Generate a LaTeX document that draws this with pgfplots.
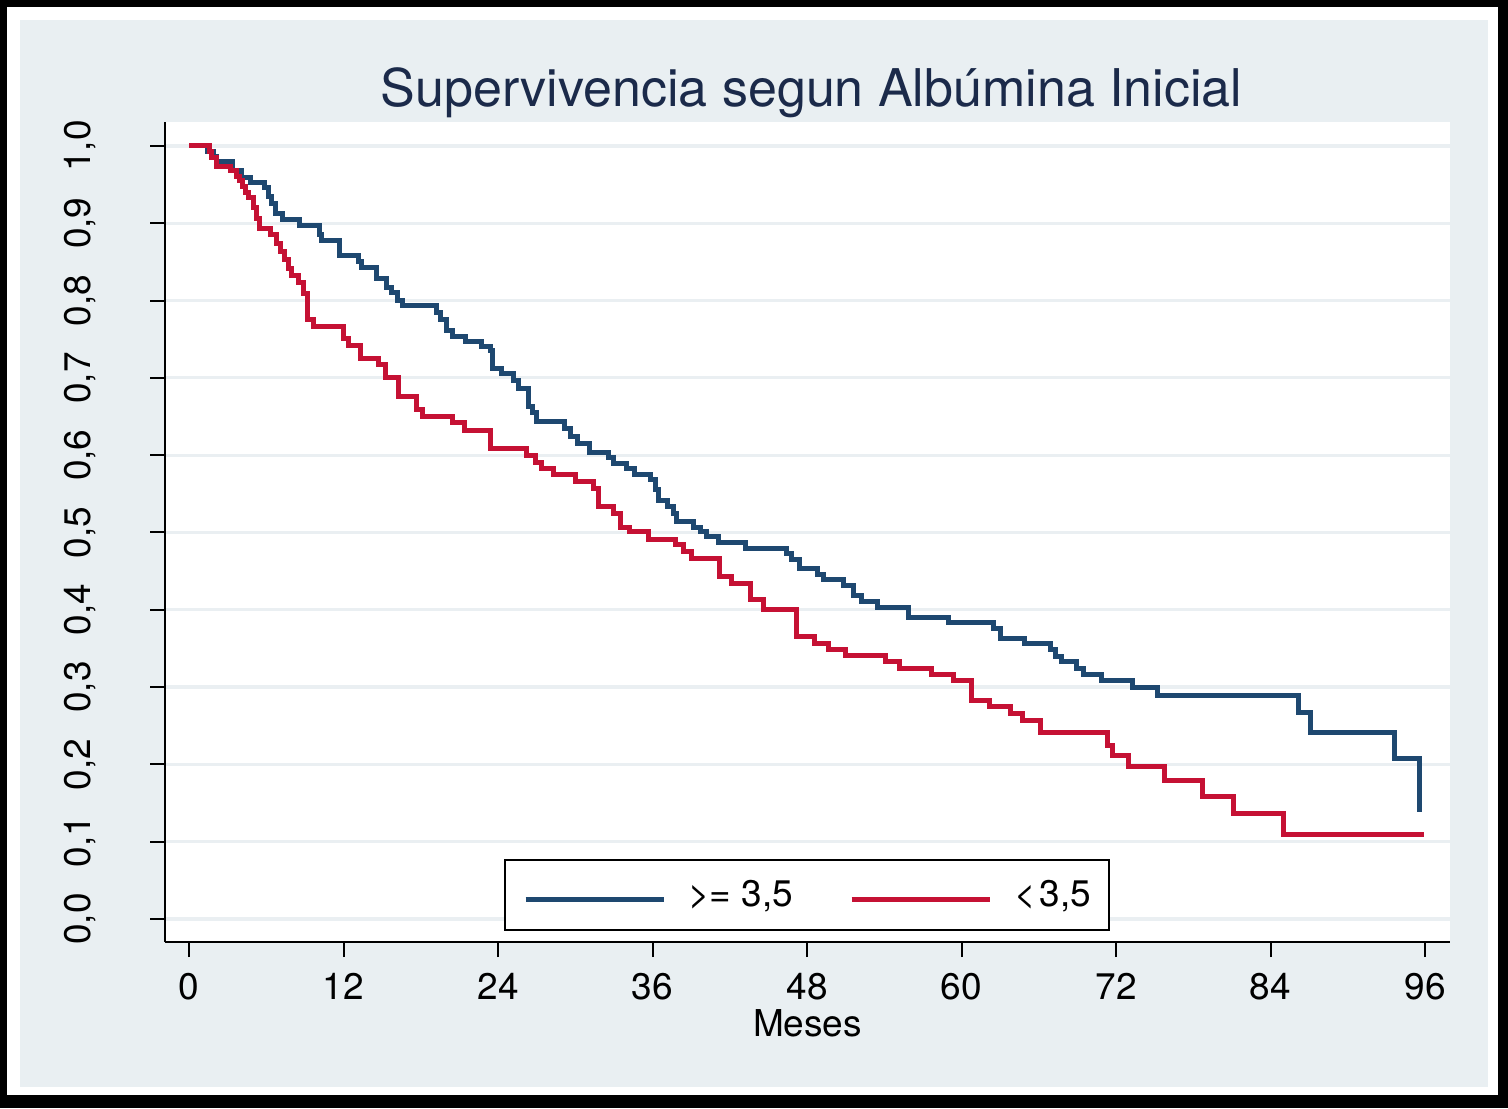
\documentclass[border=0pt]{standalone}
\usepackage{fontspec}
\setmainfont{TeX Gyre Heros}
\usepackage{pgfplots}
\pgfplotsset{compat=1.18}
\definecolor{bgc}{RGB}{233,239,242}
\definecolor{gridc}{RGB}{234,239,242}
\definecolor{navyc}{RGB}{30,72,112}
\definecolor{redc}{RGB}{197,17,52}
\definecolor{titlec}{RGB}{27,42,74}
\newcommand{\tfont}{\fontsize{18.5pt}{22pt}\selectfont}
\begin{document}
\begin{tikzpicture}
\fill[black] (0pt,0pt) rectangle (754pt,554pt);
\fill[white] (3.5pt,6.5pt) rectangle (749pt,550.5pt);
\fill[bgc] (10pt,10.5pt) rectangle (744pt,544pt);
\begin{axis}[
  at={(82.5pt,83pt)}, anchor=south west,
  scale only axis, width=642.5pt, height=410pt,
  xmin=-1.864, xmax=97.94, ymin=-0.02975, ymax=1.031,
  axis background/.style={fill=white},
  axis lines=left, axis line style={-, line width=1pt, black},
  xtick={0,12,...,96}, ytick={0,0.1,...,1.0},
  tick align=outside, major tick length=7.5pt,
  tick style={black, line width=1pt},
  ymajorgrids, major grid style={color=gridc, line width=1.6pt},
  /pgf/number format/assume math mode=true,
  yticklabel style={/pgf/number format/.cd, use comma, fixed, fixed zerofill, precision=1, /tikz/.cd, rotate=90, anchor=south, inner sep=0pt},
  yticklabel shift=27pt,
  xticklabel style={anchor=north, inner sep=0pt},
  xticklabel shift=8pt,
  ticklabel style={font=\tfont},
  xlabel={Meses},
  xlabel style={font=\tfont, at={(axis description cs:0.5,0)}, anchor=base, yshift=-47pt, inner sep=0pt},
  title={Supervivencia segun Albúmina Inicial},
  title style={font=\fontsize{26pt}{30pt}\selectfont, color=titlec, at={(axis description cs:0.5,1)}, anchor=base, yshift=1.5pt, xshift=2pt, inner sep=0pt},
  legend columns=2,
  legend style={at={(axis cs:48,0.031)}, anchor=center, draw=black, line width=1pt, fill=white,
    font=\tfont, inner xsep=9pt, inner ysep=10pt,
    nodes={inner sep=0pt, anchor=base west},
    /tikz/every even column/.append style={column sep=28pt},
    /tikz/every odd column/.append style={column sep=11pt}},
  legend image code/.code={\draw[#1] (0pt,0.35em) -- (69pt,0.35em);},
]
\addplot[const plot, navyc, line width=2.5pt] coordinates {
(0,1) (1.4,0.993) (1.9,0.986) (2.15,0.98) (3.4,0.968) (4.1,0.959) (4.75,0.953)
(5.9,0.946) (6.16,0.935) (6.4,0.925) (6.7,0.913) (7.3,0.905) (8.6,0.897)
(10.1,0.886) (10.3,0.878) (11.65,0.858) (13.2,0.851) (13.4,0.843) (14.6,0.829)
(15.35,0.817) (15.7,0.81) (16.2,0.80) (16.6,0.794) (19.2,0.785) (19.5,0.775)
(20.0,0.761) (20.5,0.753) (21.5,0.747) (22.7,0.741) (23.4,0.735) (23.6,0.712)
(24.3,0.706) (25.2,0.697) (25.6,0.686) (26.4,0.663) (26.7,0.655) (27.0,0.643)
(29.2,0.635) (29.6,0.624) (30.2,0.615) (31.1,0.603) (32.6,0.597) (32.95,0.589)
(34.0,0.583) (34.6,0.575) (35.85,0.568) (36.2,0.555) (36.45,0.542) (37.2,0.533)
(37.6,0.525) (37.9,0.514) (39.2,0.507) (39.7,0.501) (40.2,0.495) (41.1,0.487)
(43.2,0.479) (46.4,0.473) (46.8,0.465) (47.4,0.454) (48.8,0.446) (49.3,0.439)
(50.8,0.432) (51.6,0.419) (52.2,0.411) (53.5,0.403) (55.9,0.390) (59.0,0.383)
(62.5,0.376) (63.0,0.363) (64.9,0.356) (66.9,0.348) (67.3,0.340) (67.8,0.333)
(68.9,0.324) (69.5,0.316) (70.9,0.308) (73.3,0.299) (75.2,0.289) (86.2,0.267)
(87.1,0.241) (93.6,0.207) (95.6,0.138)
};
\addlegendentry{>= 3,5}
\addplot[const plot, redc, line width=2.5pt] coordinates {
(0,1) (1.6,0.993) (1.75,0.985) (2.15,0.974) (3.2,0.968) (3.7,0.961) (3.96,0.955)
(4.16,0.948) (4.35,0.94) (4.6,0.933) (5.0,0.92) (5.24,0.906) (5.5,0.893)
(6.3,0.885) (6.8,0.874) (7.1,0.864) (7.45,0.8525) (7.7,0.842) (7.96,0.833)
(8.5,0.824) (8.9,0.809) (9.2,0.775) (9.65,0.766) (12.0,0.751) (12.4,0.742)
(13.3,0.725) (14.7,0.717) (15.3,0.701) (16.3,0.676) (17.7,0.659) (18.1,0.650)
(20.5,0.642) (21.4,0.632) (23.4,0.609) (26.2,0.600) (26.9,0.591) (27.4,0.583)
(28.3,0.575) (30.0,0.5655) (31.4,0.557) (31.8,0.533) (32.95,0.525) (33.5,0.507)
(34.25,0.501) (35.7,0.491) (37.75,0.484) (38.4,0.476) (39.0,0.4665) (41.2,0.443)
(42.1,0.434) (43.6,0.413) (44.6,0.4005) (47.2,0.366) (48.6,0.357) (49.7,0.349)
(51.0,0.3415) (54.1,0.333) (55.2,0.324) (57.7,0.316) (59.4,0.308) (60.8,0.283)
(62.2,0.275) (63.8,0.266) (64.7,0.257) (66.1,0.241) (71.3,0.225) (71.75,0.211)
(72.96,0.197) (75.8,0.179) (78.7,0.158) (81.1,0.136) (85.0,0.1096) (95.9,0.1096)
};
\addlegendentry{<\hspace{0.1em}3,5}
\end{axis}
\end{tikzpicture}
\end{document}
